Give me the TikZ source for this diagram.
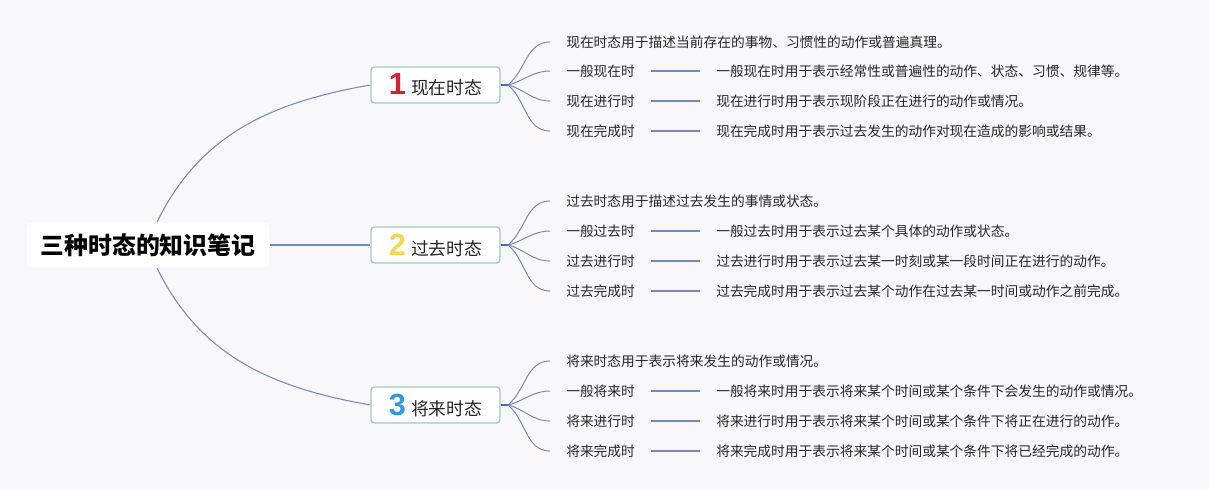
\documentclass[tikz,border=0pt]{standalone}
\usepackage{fontspec}
\setmainfont{Noto Sans CJK SC}
\newfontfamily\numfont{Liberation Sans}[UprightFont=* Bold]
\usepackage{tikz}
\usetikzlibrary{positioning}
\definecolor{mmBg}{HTML}{F8F8FA}
\definecolor{mmLine}{HTML}{7C87B9}
\definecolor{mmStubC}{HTML}{5566A6}
\definecolor{mmBorder}{HTML}{A3C9BC}
\definecolor{mmText}{HTML}{262626}
\definecolor{mmRed}{HTML}{D9202E}
\definecolor{mmYellow}{HTML}{F6D64A}
\definecolor{mmBlue}{HTML}{2E9BE0}
\tikzset{
  mmRoot/.style={fill=white, rounded corners=4.5pt,
    minimum width=182pt, minimum height=34pt, inner sep=0pt,
    font=\fontsize{17.9}{20}\selectfont\bfseries, text=black},
  mmMain/.style={draw=mmBorder, line width=1.1pt, fill=white, rounded corners=2.5pt,
    minimum width=96.75pt, minimum height=27pt, inner sep=0pt,
    font=\fontsize{13.3}{15}\selectfont, text=mmText},
  mmSub/.style={anchor=west, inner xsep=12pt, inner ysep=2pt,
    font=\fontsize{10.3}{12}\selectfont, text=mmText},
  %% connectors
  mmLink/.style={draw=mmLine, line width=0.8pt},
  mmFan/.style={draw=mmLine, line width=0.75pt},
  mmStub/.style={draw=mmStubC, line width=1.6pt},
}
\newcommand{\mmNum}[2]{{\numfont\fontsize{23}{23}\selectfont\color{#1}#2}}

\begin{document}
\begin{tikzpicture}[x=0.75pt, y=0.75pt]
\fill[mmBg] (0,0) rectangle (1209,490);
\useasboundingbox (0,0) rectangle (1209,490);

\node[mmRoot] (root)  at (148,245)   {三种时态的知识笔记};
\node[mmMain] (tPres) at (435.5,405) {\mmNum{mmRed}{1}\hspace{4pt}现在时态};
\node[mmMain] (tPast) at (435.5,245) {\mmNum{mmYellow}{2}\hspace{4pt}过去时态};
\node[mmMain] (tFut)  at (435.5,85)  {\mmNum{mmBlue}{3}\hspace{4pt}将来时态};

\draw[mmLink] ([xshift=6.75pt]root.north) to[out=64,in=190] (tPres.west);
\draw[mmLink] (root.east) -- (tPast.west);
\draw[mmLink] ([xshift=6.75pt]root.south) to[out=-64,in=170] (tFut.west);

%% present
\node[mmSub] (pres0)  at (550,448) {现在时态用于描述当前存在的事物、习惯性的动作或普遍真理。};
\node[mmSub] (pres1)  at (550,419) {一般现在时};
\node[mmSub] (pres2)  at (550,389) {现在进行时};
\node[mmSub] (pres3)  at (550,359) {现在完成时};
\node[mmSub] (presD1) at (700,419) {一般现在时用于表示经常性或普遍性的动作、状态、习惯、规律等。};
\node[mmSub] (presD2) at (700,389) {现在进行时用于表示现阶段正在进行的动作或情况。};
\node[mmSub] (presD3) at (700,359) {现在完成时用于表示过去发生的动作对现在造成的影响或结果。};

%% past
\node[mmSub] (past0)  at (550,289) {过去时态用于描述过去发生的事情或状态。};
\node[mmSub] (past1)  at (550,259) {一般过去时};
\node[mmSub] (past2)  at (550,229) {过去进行时};
\node[mmSub] (past3)  at (550,199) {过去完成时};
\node[mmSub] (pastD1) at (700,259) {一般过去时用于表示过去某个具体的动作或状态。};
\node[mmSub] (pastD2) at (700,229) {过去进行时用于表示过去某一时刻或某一段时间正在进行的动作。};
\node[mmSub] (pastD3) at (700,199) {过去完成时用于表示过去某个动作在过去某一时间或动作之前完成。};

%% future
\node[mmSub] (fut0)  at (550,129) {将来时态用于表示将来发生的动作或情况。};
\node[mmSub] (fut1)  at (550,99)  {一般将来时};
\node[mmSub] (fut2)  at (550,69)  {将来进行时};
\node[mmSub] (fut3)  at (550,39)  {将来完成时};
\node[mmSub] (futD1) at (700,99)  {一般将来时用于表示将来某个时间或某个条件下会发生的动作或情况。};
\node[mmSub] (futD2) at (700,69)  {将来进行时用于表示将来某个时间或某个条件下将正在进行的动作。};
\node[mmSub] (futD3) at (700,39)  {将来完成时用于表示将来某个时间或某个条件下将已经完成的动作。};

\coordinate (fPres) at (508,405);
\coordinate (fPast) at (508,245);
\coordinate (fFut)  at (508,85);
\draw[mmStub] (tPres.east) -- (fPres);
\draw[mmStub] (tPast.east) -- (fPast);
\draw[mmStub] (tFut.east) -- (fFut);

\foreach \i/\a in {0/40, 1/15, 2/-15, 3/-40} {
  \draw[mmFan] (fPres) to[out=\a,in=180] (pres\i.west);
  \draw[mmFan] (fPast) to[out=\a,in=180] (past\i.west);
  \draw[mmFan] (fFut)  to[out=\a,in=180] (fut\i.west);
}
\foreach \i in {1,2,3} {
  \draw[mmLink] (pres\i.east) -- (presD\i.west);
  \draw[mmLink] (past\i.east) -- (pastD\i.west);
  \draw[mmLink] (fut\i.east)  -- (futD\i.west);
}

\end{tikzpicture}
\end{document}
